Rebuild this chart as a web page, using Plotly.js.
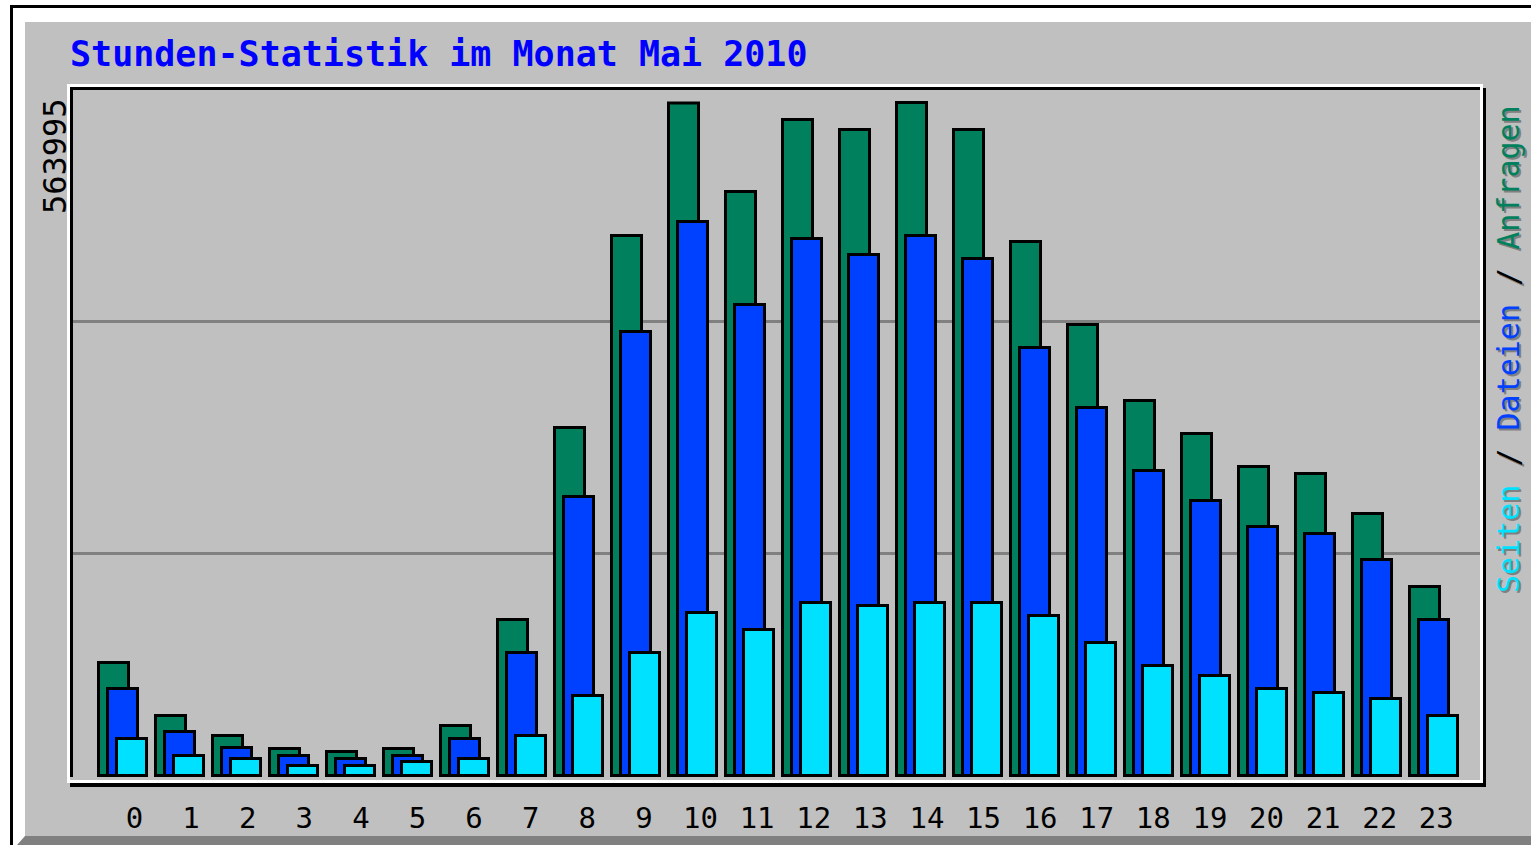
<!DOCTYPE html>
<html>
<head>
<meta charset="utf-8">
<script src="https://cdn.plot.ly/plotly-3.0.1.min.js"></script>
<style>
  html, body { margin: 0; padding: 0; background: #ffffff; }
  #chart { width: 1531px; height: 845px; }
</style>
</head>
<body>
<div id="chart"></div>
<script>
// ---- data ----
const hours = [0,1,2,3,4,5,6,7,8,9,10,11,12,13,14,15,16,17,18,19,20,21,22,23];
const hourLabels = ["0","1","2","3","4","5","6","7","8","9","10","11","12","13","14","15","16","17","18","19","20","21","22","23"];
const anfragen = [94700, 50300, 33500, 22600, 20100, 22600, 41900, 130700, 291600, 452500, 563500, 489400, 549700, 541400, 563995, 541400, 447500, 378000, 314300, 286600, 259000, 253100, 219600, 158400];
const dateien  = [72900, 36900, 23500, 16800, 14200, 16800, 31000, 103100, 233800, 372100, 464300, 394700, 450000, 436600, 452500, 433300, 358700, 308400, 255600, 230500, 208700, 202800, 181000, 130700];
const seiten   = [31000, 16800, 14200, 8400, 8400, 11700, 14200, 33500, 67000, 103100, 136600, 122400, 145000, 142500, 145000, 145000, 134100, 111500, 92200, 83800, 72900, 69600, 64500, 50300];
const titleText = "Stunden-Statistik im Monat Mai 2010";
const seriesNames = ["Seiten", "Dateien", "Anfragen"];

// ---- styling / geometry ----
const W = 1531, H = 845;
const ML = 73, MR = 51, MT = 90, MB = 65;
const PW = W - ML - MR, PH = H - MT - MB;
const GREEN = "#00805C", BLUE = "#0040FF", CYAN = "#00E0FF", GRAY = "#C0C0C0", DARK = "#808080";
const MONO = "DejaVu Sans Mono, Liberation Mono, monospace";

const px = x => (x - ML) / PW;
const py = y => (H - MB - y) / PH;

// x scale: 57 px per hour
const unit = 57;
const xRange = [(ML - 122.5) / unit, (W - MR - 122.5) / unit];
const barW = 30 / unit;

// y scale: max value spans 673 px above baseline, baseline 4.5px above plot bottom
const maxVal = Math.max(...anfragen);
const s = 673 / maxVal;
const yMin = -4.5 / s;
const yRange = [yMin, yMin + PH / s];

const tickPos = hours.map(h => h + (12 - 0.4 * h) / unit);

function mkBar(vals, color, off, name) {
  return {
    type: "bar", x: hours, y: vals, name: name,
    offset: off, width: barW,
    marker: { color: color, line: { color: "#000000", width: 3 } },
    hoverinfo: "skip", showlegend: false
  };
}
const traces = [
  mkBar(anfragen, GREEN, -24 / unit, seriesNames[2]),
  mkBar(dateien, BLUE, -15 / unit, seriesNames[1]),
  mkBar(seiten, CYAN, -6 / unit, seriesNames[0])
];

function rect(x0, y0, x1, y1, color, layer) {
  return { type: "rect", xref: "paper", yref: "paper",
    x0: px(x0), x1: px(x1), y0: py(y0), y1: py(y1),
    fillcolor: color, line: { width: 0 }, layer: layer || "below" };
}
const shapes = [
  rect(10, 5, W, 8, "#000000"),
  rect(10, 5, 13, H, "#000000"),
  rect(25, 22, W, 836, GRAY),
  rect(25, 836, W, H, DARK),
  { type: "path", xref: "paper", yref: "paper",
    path: `M ${px(25)} ${py(836)} L ${px(25)} ${py(H)} L ${px(17)} ${py(H)} Z`,
    fillcolor: DARK, line: { width: 0 }, layer: "below" },
  rect(73, 320, 1480, 323, DARK),
  rect(73, 552, 1480, 555, DARK),
  // white frame
  rect(67, 84, 1483, 87, "#FFFFFF"),
  rect(67, 84, 70, 783, "#FFFFFF"),
  rect(67, 780, 1483, 783, "#FFFFFF"),
  rect(1480, 84, 1483, 783, "#FFFFFF"),
  // black frame
  rect(70, 87, 1480, 90, "#000000"),
  rect(70, 87, 73, 777, "#000000"),
  rect(70, 783, 1486, 787, "#000000"),
  rect(1483, 88, 1486, 787, "#000000")
];

const labelHTML = `<span style="color:${CYAN}">${seriesNames[0]}</span> / ` +
  `<span style="color:${BLUE}">${seriesNames[1]}</span> / ` +
  `<span style="color:${GREEN}">${seriesNames[2]}</span>`;
const labelPlain = `${seriesNames[0]} / ${seriesNames[1]} / ${seriesNames[2]}`;

const annotations = [
  { xref: "paper", yref: "paper", x: px(1508), y: py(349), text: labelPlain,
    textangle: -90, showarrow: false, xshift: 2, yshift: -2,
    font: { family: MONO, size: 30, color: DARK }, xanchor: "center", yanchor: "middle" },
  { xref: "paper", yref: "paper", x: px(1508), y: py(349), text: labelHTML,
    textangle: -90, showarrow: false,
    font: { family: MONO, size: 30, color: "#000000" }, xanchor: "center", yanchor: "middle" },
  { xref: "paper", yref: "paper", x: px(55), y: py(156), text: String(maxVal),
    textangle: -90, showarrow: false,
    font: { family: MONO, size: 32, color: "#000000" }, xanchor: "center", yanchor: "middle" }
];

const layout = {
  width: W, height: H,
  margin: { l: ML, r: MR, t: MT, b: MB, pad: 0 },
  paper_bgcolor: "#FFFFFF",
  plot_bgcolor: "rgba(0,0,0,0)",
  barmode: "overlay",
  showlegend: false,
  title: {
    text: titleText,
    xref: "container", yref: "container",
    x: 70 / W, xanchor: "left",
    y: 1 - 54 / H, yanchor: "middle",
    font: { family: MONO, size: 35, weight: "bold", color: "#0000FF" }
  },
  xaxis: {
    range: xRange, tickvals: tickPos, ticktext: hourLabels,
    showgrid: false, zeroline: false, showline: false, ticks: "",
    ticklabelstandoff: 18,
    tickfont: { family: MONO, size: 29, color: "#000000" },
    fixedrange: true
  },
  yaxis: {
    range: yRange, visible: false, showgrid: false, zeroline: false, fixedrange: true
  },
  shapes: shapes,
  annotations: annotations
};

Plotly.newPlot("chart", traces, layout, { displayModeBar: false, staticPlot: true });
</script>
</body>
</html>
